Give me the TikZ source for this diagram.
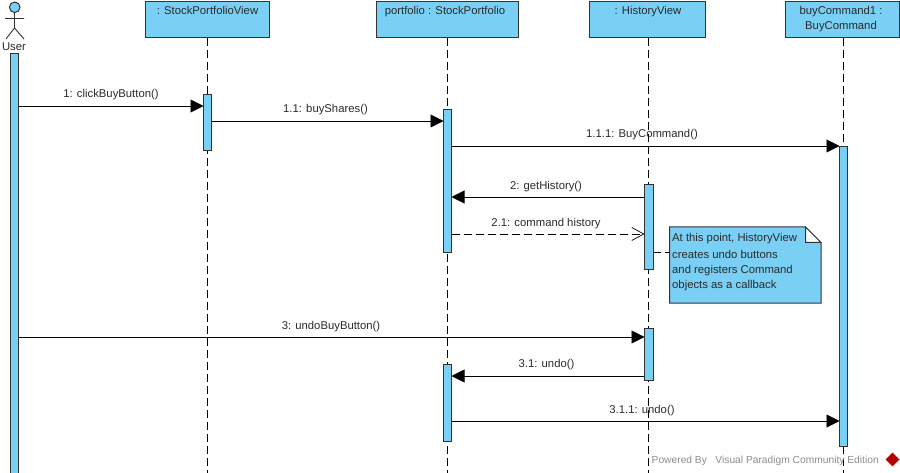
\documentclass[tikz,border=0pt]{standalone}
\usepackage{fontspec}
\setmainfont{Liberation Sans}
\usetikzlibrary{arrows.meta,shapes.geometric}
\definecolor{fillblue}{HTML}{7ACFF5}
\definecolor{edge}{HTML}{333333}
\definecolor{ink}{HTML}{2A2A2A}
\tikzset{
  x=1pt,y=-1pt,
  every node/.style={font=\fontsize{11.3}{15}\selectfont,text=ink,inner sep=0pt},
  headbox/.style={draw=edge,line width=1pt,fill=fillblue},
  headtext/.style={align=center,anchor=north},
  bar/.style={draw=edge,line width=1pt,fill=fillblue},
  lifeline/.style={draw=black,line width=0.9pt,dash pattern=on 8pt off 4pt},
  call/.style={draw=black,line width=0.9pt,-{Triangle[length=13pt,width=13pt]}},
  reply/.style={draw=black,line width=0.9pt,dash pattern=on 8pt off 4pt,-{Straight Barb[length=12pt,width=13pt,line width=0.7pt]}},
  msg/.style={anchor=south},
}
\begin{document}
\begin{tikzpicture}
\useasboundingbox (0,0) rectangle (900,473);
% lifelines
\coordinate (l0t) at (207.5,38); \coordinate (l0b) at (207.5,473);
\coordinate (l1t) at (447,38);   \coordinate (l1b) at (447,473);
\coordinate (l2t) at (648,38);   \coordinate (l2b) at (648,473);
\coordinate (l3t) at (843,38);   \coordinate (l3b) at (843,473);
\draw[lifeline] (l0t) -- (l0b);
\draw[lifeline] (l1t) -- (l1b);
\draw[lifeline] (l2t) -- (l2b);
\draw[lifeline] (l3t) -- (l3b);
% object heads
\draw[headbox] (145.5,2) rectangle (269.5,38);
\node[headtext] (h0) at (207.5,6.5) {: StockPortfolioView};
\draw[headbox] (376.5,2) rectangle (518,38);
\node[headtext] (h1) at (445,6.5) {portfolio : StockPortfolio};
\draw[headbox] (589.5,2) rectangle (705.5,38);
\node[headtext] (h2) at (648,6.5) {: HistoryView};
\draw[headbox] (785.5,2) rectangle (899.5,38);
\node[headtext] (h3) at (841,6.5) {buyCommand1 :\\BuyCommand};
% actor
\draw[fill=fillblue,draw=edge,line width=1pt] (14.7,7.3) circle (5.3pt);
\draw[edge,line width=0.9pt] (14.5,13) -- (14.5,28) (5,18.5) -- (24,18.5) (14.5,28) -- (6,39) (14.5,28) -- (24,39);
\node (actor) at (14,46.5) {User};
% activation bars
\draw[bar] (10.5,54) rectangle (18.5,473);
\draw[bar] (203.5,94.5) rectangle (211.5,150.5);
\draw[bar] (443.3,110) rectangle (451.5,252.3);
\draw[bar] (644.5,184.5) rectangle (653,269.5);
\draw[bar] (839,147) rectangle (847.5,446);
\draw[bar] (644.5,328) rectangle (653,380);
\draw[bar] (443.3,364) rectangle (451.5,441);
% messages
\coordinate (m1a) at (19,106);  \coordinate (m1b) at (203.5,106);
\coordinate (m2a) at (212,121); \coordinate (m2b) at (443.5,121);
\coordinate (m3a) at (452,146); \coordinate (m3b) at (839.5,146);
\coordinate (m4a) at (644,197); \coordinate (m4b) at (451.5,197);
\coordinate (m5a) at (452,234); \coordinate (m5b) at (644.5,234);
\coordinate (m6a) at (19,337);  \coordinate (m6b) at (644.5,337);
\coordinate (m7a) at (644,376); \coordinate (m7b) at (451.5,376);
\coordinate (m8a) at (452,421); \coordinate (m8b) at (839.5,421);
\draw[call] (m1a) -- (m1b);
\draw[call] (m2a) -- (m2b);
\draw[call] (m3a) -- (m3b);
\draw[call] (m4a) -- (m4b);
\draw[reply] (m5a) -- (m5b);
\draw[call] (m6a) -- (m6b);
\draw[call] (m7a) -- (m7b);
\draw[call] (m8a) -- (m8b);
\node[msg] (t1) at (111,100.5) {1: clickBuyButton()};
\node[msg] (t2) at (325.5,115.5) {1.1: buyShares()};
\node[msg] (t3) at (642,140.5) {1.1.1: BuyCommand()};
\node[msg] (t4) at (546,192) {2: getHistory()};
\node[msg] (t5) at (546,229.5) {2.1: command history};
\node[msg] (t6) at (331,332) {3: undoBuyButton()};
\node[msg] (t7) at (546.5,370.5) {3.1: undo()};
\node[msg] (t8) at (642,416) {3.1.1: undo()};
% note
\draw[headbox] (669.5,227) -- (805.5,227) -- (821,242.5) -- (821,303) -- (669.5,303) -- cycle;
\draw[draw=edge,fill=white,line width=1pt] (805.5,227) -- (805.5,242.5) -- (821,242.5) -- cycle;
\node[anchor=north west,align=left] (note) at (672,233.5) {At this point, HistoryView\\[1.5pt]creates undo buttons\\and registers Command\\objects as a callback};
\draw[lifeline] (653,252) -- (669.5,252);
% watermark
\node[anchor=west,text=black!45,font=\fontsize{10.25}{13}\selectfont] (wm) at (651.5,460.5) {Powered By\hspace{8.5pt}Visual Paradigm Community Edition};
\node[diamond,fill=red!70!black,minimum width=14pt,minimum height=14pt] (logo) at (892.5,459.5) {};
\end{tikzpicture}
\end{document}
